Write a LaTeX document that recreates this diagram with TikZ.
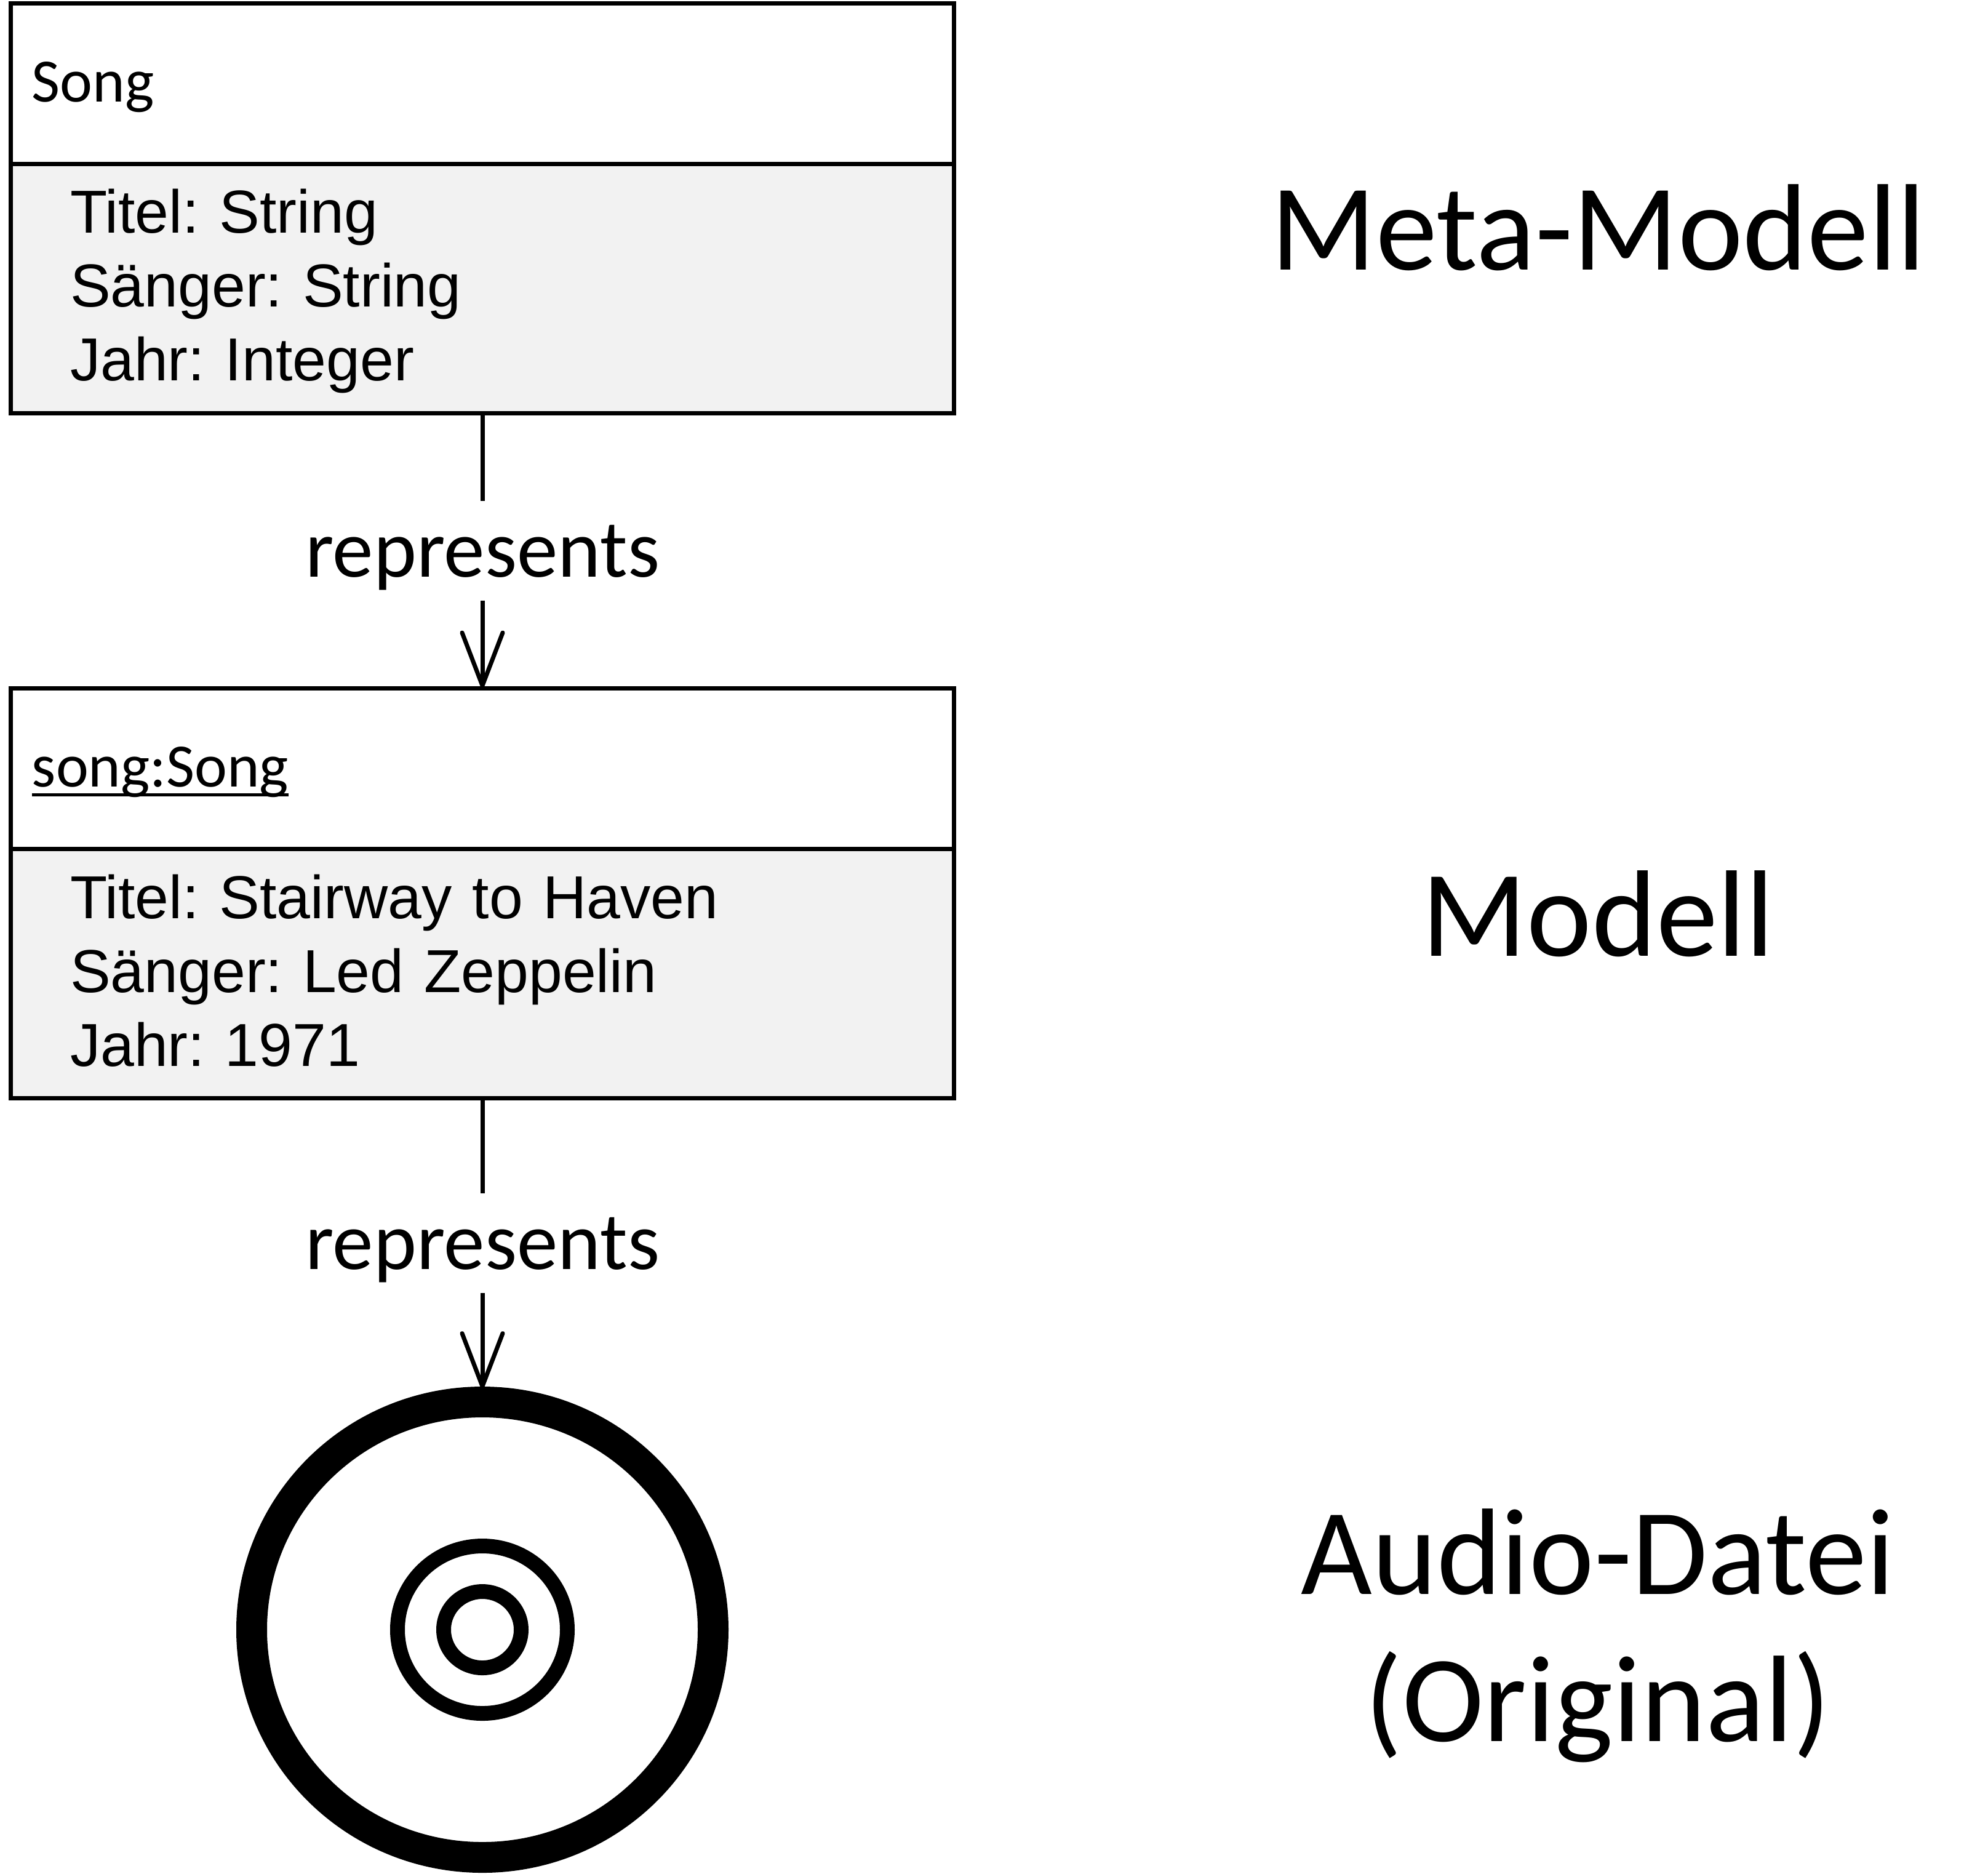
\documentclass[tikz,border=0pt]{standalone}
\usepackage{fontspec}
\setmainfont{Carlito}
\newfontfamily\attrfont{Liberation Sans}
\newcommand{\instname}[1]{\setbox0=\hbox{#1}\leavevmode\rlap{\rule[-0.16cm]{\wd0}{0.05cm}}\box0}
\usetikzlibrary {arrows.meta,positioning,shapes.geometric}

\begin{document}
\begin{tikzpicture}[node distance= 3.33cm,
      >={Straight Barb[length= 0.86cm,width= 0.66cm,round]},
      headbox/.style={draw,minimum width= 15.32cm,minimum height= 2.62cm,text width= 14.64cm,
        inner xsep= 0.34cm,inner ysep= 0pt,line width= 0.07cm,text depth= 0.07cm,
        font=\fontsize{28.5}{34}\selectfont},
      attrbox/.style={draw,fill= black!5,minimum width= 15.32cm,minimum height= 4.05cm,text width= 13.4cm,
        inner xsep= 0.96cm,inner ysep= 0pt,line width= 0.07cm,align= left,
        font=\attrfont\frenchspacing\fontsize{28.05}{34.1}\selectfont},
      relation/.style={inner sep= 0pt,minimum height= 1.6cm,text depth= 0pt,
        font=\fontsize{37.9}{44}\selectfont},
      level/.style={align= center,font=\fontsize{56.9}{68}\selectfont},
      ring/.style={draw,ellipse,inner sep= 0pt}]
      \useasboundingbox (0,0) rectangle (32.31,-30.44);
      \node (song) [headbox] at (7.84,-1.36) {Song};
      \node (songattr) [attrbox] [below of= song] {Titel: String\\Sänger: String\\Jahr: Integer\vspace*{-0.08cm}};
      \node (rep1) [relation] [below of= songattr,node distance= 4.26cm] {represents};
      \node (inst) [headbox] [below of= rep1,node distance= 3.54cm] {\instname{song:Song}};
      \node (instattr) [attrbox] [below of= inst] {Titel: Stairway to Haven\\Sänger: Led Zeppelin\\Jahr: 1971\vspace*{0.1cm}};
      \node (rep2) [relation] [below of= instattr,node distance= 4.38cm] {represents};
      \node (disc) [ring,line width= 0.5cm,minimum width= 7.5cm,minimum height= 7.4cm]
        [below of= rep2,node distance= 6.28cm] {};
      \node (discmid) [ring,line width= 0.24cm,minimum width= 2.76cm,minimum height= 2.72cm] at (disc.center) {};
      \node (discin) [ring,line width= 0.24cm,minimum width= 1.26cm,minimum height= 1.24cm] at (disc.center) {};
      \node (meta) [level,anchor= base] at (25.97,-4.38) {Meta-Modell};
      \node (model) [level,anchor= base] at (25.97,-15.53) {Modell};
      \node (audio) [level] at (25.97,-26.58) {Audio-Datei\\(Original)};
      \begin{scope}
        [every edge/.style={draw= black, line width= 0.07cm}]
        \path (songattr) edge (rep1);
        \path (rep1) edge[->,shorten >= -0.03cm] (inst);
        \path (instattr) edge (rep2);
        \path (rep2) edge[->,shorten >= -0.03cm] (disc);
      \end{scope}
    \end{tikzpicture}
\end{document}
